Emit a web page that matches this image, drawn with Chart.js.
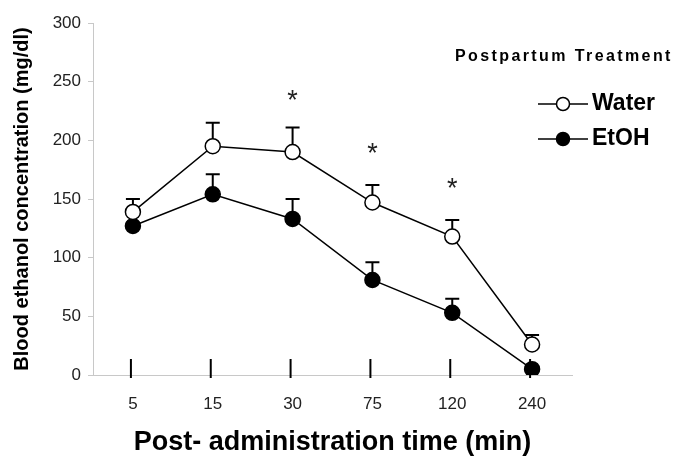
<!DOCTYPE html>
<html>
<head>
<meta charset="utf-8">
<script src="https://cdn.jsdelivr.net/npm/chart.js@4"></script>
<style>
  body { margin: 0; background: #fff; }
  #wrap { width: 674px; height: 460px; }
</style>
</head>
<body>
<div id="wrap"><canvas id="c"></canvas></div>
<script>
const times = ["5", "15", "30", "75", "120", "240"];
const waterMean = [139, 195, 190, 147, 118, 26];
const waterErr = [11, 20, 21, 15, 14, 8];
const ethMean = [127, 154, 133, 81, 53, 5];
const ethErr = [3, 17, 17, 15, 12, 2];
// asterisk heights (mg/dl) where groups differ
const starLevel = [null, null, 240, 195, 165, null];

Chart.defaults.font.family = "'Liberation Sans', Arial, sans-serif";
Chart.defaults.color = "#222";

const extras = {
    id: "extras",
    beforeDatasetsDraw(chart) {
        const {ctx, scales: {x, y}} = chart;
        ctx.save();
        ctx.strokeStyle = "#000";
        ctx.lineWidth = 2;
        // short category marks above axis
        times.forEach((t, i) => {
            const px = x.getPixelForValue(i) - 2;
            ctx.beginPath();
            ctx.moveTo(px, y.bottom - 16);
            ctx.lineTo(px, y.bottom + 3);
            ctx.stroke();
        });
        // error bars (upper only)
        [[waterMean, waterErr], [ethMean, ethErr]].forEach(([m, e]) => {
            m.forEach((v, i) => {
                const px = x.getPixelForValue(i);
                const y0 = y.getPixelForValue(v);
                const y1 = y.getPixelForValue(v + e[i]);
                ctx.beginPath();
                ctx.moveTo(px, y0);
                ctx.lineTo(px, y1);
                ctx.moveTo(px - 7, y1);
                ctx.lineTo(px + 7, y1);
                ctx.stroke();
            });
        });
        ctx.restore();
    },
    afterDraw(chart) {
        const {ctx, scales: {x, y}} = chart;
        ctx.save();
        // asterisks
        ctx.fillStyle = "#222";
        ctx.font = "27px 'Liberation Sans', Arial, sans-serif";
        ctx.textAlign = "center";
        ctx.textBaseline = "alphabetic";
        starLevel.forEach((s, i) => {
            if (s == null) return;
            ctx.fillText("*", x.getPixelForValue(i), y.getPixelForValue(s) + 16);
        });

        // legend
        ctx.fillStyle = "#000";
        ctx.textAlign = "left";
        ctx.textBaseline = "middle";
        ctx.font = "bold 16px 'Liberation Sans', Arial, sans-serif";
        ctx.letterSpacing = "2.4px";
        ctx.fillText("Postpartum Treatment", 455, 57);
        ctx.letterSpacing = "0px";

        const items = [["Water", "#fff", 104], ["EtOH", "#000", 139]];
        items.forEach(([label, fill, ly]) => {
            ctx.strokeStyle = "#000";
            ctx.lineWidth = 1.5;
            ctx.beginPath();
            ctx.moveTo(538, ly);
            ctx.lineTo(588, ly);
            ctx.stroke();
            ctx.beginPath();
            ctx.arc(563, ly, 6.5, 0, Math.PI * 2);
            ctx.fillStyle = fill;
            ctx.fill();
            ctx.stroke();
            ctx.fillStyle = "#000";
            ctx.font = "bold 23px 'Liberation Sans', Arial, sans-serif";
            ctx.fillText(label, 592, ly);
        });
        ctx.restore();
    }
};

new Chart(document.getElementById("c"), {
    type: "line",
    data: {
        labels: times,
        datasets: [
            {
                label: "Water",
                data: waterMean,
                borderColor: "#000",
                borderWidth: 1.5,
                pointBackgroundColor: "#fff",
                pointBorderColor: "#000",
                pointBorderWidth: 1.5,
                pointRadius: 7.5,
                tension: 0,
            },
            {
                label: "EtOH",
                data: ethMean,
                borderColor: "#000",
                borderWidth: 1.5,
                pointBackgroundColor: "#000",
                pointBorderColor: "#000",
                pointBorderWidth: 1.5,
                pointRadius: 7.5,
                tension: 0,
            },
        ],
    },
    options: {
        responsive: true,
        maintainAspectRatio: false,
        animation: false,
        layout: {
            padding: {top: 23, right: 102, bottom: 0, left: 0},
        },
        plugins: {
            legend: {display: false},
            tooltip: {enabled: false},
        },
        scales: {
            x: {
                offset: true,
                grid: {display: false, drawTicks: false},
                border: {display: true, color: "#c8c8c8", width: 1},
                ticks: {
                    padding: 19,
                    color: "#222",
                    font: {size: 17},
                },
                title: {
                    display: true,
                    text: "Post- administration time (min)",
                    color: "#000",
                    font: {size: 27, weight: "bold"},
                    padding: {top: 0, bottom: 1},
                },
                afterFit: (scale) => {
                    scale.height = 85;
                },
            },
            y: {
                min: 0,
                max: 300,
                grid: {
                    drawOnChartArea: false,
                    drawTicks: true,
                    tickLength: 5,
                    color: "#c8c8c8",
                },
                border: {display: true, color: "#c8c8c8", width: 1},
                ticks: {
                    stepSize: 50,
                    padding: 7,
                    color: "#222",
                    font: {size: 17},
                },
                title: {
                    display: true,
                    text: "Blood ethanol concentration (mg/dl)",
                    color: "#000",
                    font: {size: 20, weight: "bold"},
                    padding: {top: 10, bottom: 0},
                },
                afterFit: (scale) => {
                    scale.width = 93;
                },
            },
        },
    },
    plugins: [extras],
});
</script>
</body>
</html>
